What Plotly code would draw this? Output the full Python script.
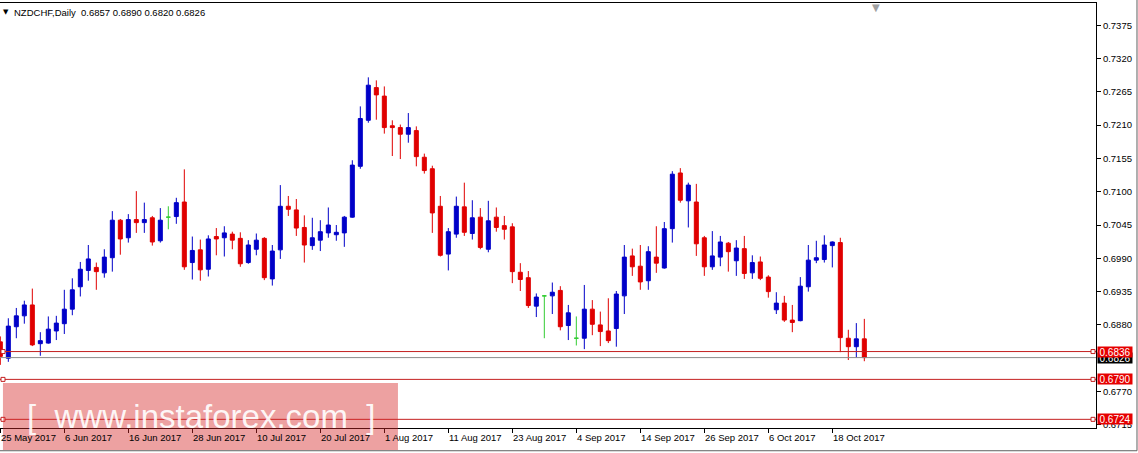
import pandas as pd
import plotly.graph_objects as go

# ---------------- data ----------------
symbol_title = "NZDCHF,Daily"

dates = pd.bdate_range("2017-05-25", "2017-10-24")
date_labels = [f"{d.day} {d:%b %Y}" for d in dates]

tick_labels = ["25 May 2017", "6 Jun 2017", "16 Jun 2017", "28 Jun 2017",
               "10 Jul 2017", "20 Jul 2017", "1 Aug 2017", "11 Aug 2017",
               "23 Aug 2017", "4 Sep 2017", "14 Sep 2017", "26 Sep 2017",
               "6 Oct 2017", "18 Oct 2017"]

price_ticks = [0.7375, 0.7320, 0.7265, 0.7210, 0.7155, 0.7100, 0.7045,
               0.6990, 0.6935, 0.6880, 0.6770, 0.6715]

opens = [0.6852, 0.6825, 0.6877, 0.6895, 0.6913, 0.6849, 0.6850, 0.6870, 0.6882, 0.6906,
         0.6943, 0.6970, 0.6975, 0.6966, 0.6991, 0.7053, 0.7024, 0.7054, 0.7049, 0.7057,
         0.7019, 0.7058, 0.7059, 0.7083, 0.6983, 0.7004, 0.6972, 0.7026, 0.7024, 0.7030,
         0.7023, 0.6983, 0.7005, 0.7023, 0.6956, 0.7004, 0.7076, 0.7070, 0.7041, 0.7011,
         0.7020, 0.7032, 0.7029, 0.7032, 0.7058, 0.7142, 0.7218, 0.7272, 0.7258, 0.7209,
         0.7206, 0.7195, 0.7201, 0.7157, 0.7138, 0.7076, 0.6997, 0.7030, 0.7075, 0.7031,
         0.7058, 0.7005, 0.7058, 0.7044, 0.7042, 0.6967, 0.6958, 0.6911, 0.6928, 0.6928,
         0.6937, 0.6879, 0.6858, 0.6858, 0.6906, 0.6880, 0.6870, 0.6874, 0.6928, 0.6994,
         0.6977, 0.6953, 0.6992, 0.6974, 0.7039, 0.7131, 0.7085, 0.7083, 0.7024, 0.6976,
         0.6992, 0.7015, 0.6986, 0.7006, 0.6966, 0.6984, 0.6959, 0.6905, 0.6916, 0.6888,
         0.6887, 0.6943, 0.6987, 0.6988, 0.7011, 0.7016, 0.6858, 0.6844, 0.6857]

highs = [0.6861, 0.6891, 0.6908, 0.6920, 0.6940, 0.6868, 0.6894, 0.6895, 0.6938, 0.6957,
         0.6984, 0.7012, 0.6983, 0.7005, 0.7068, 0.7055, 0.7063, 0.7101, 0.7082, 0.7060,
         0.7073, 0.7076, 0.7090, 0.7137, 0.7026, 0.7021, 0.7028, 0.7040, 0.7043, 0.7034,
         0.7033, 0.7020, 0.7031, 0.7025, 0.7012, 0.7111, 0.7093, 0.7088, 0.7061, 0.7057,
         0.7053, 0.7074, 0.7045, 0.7060, 0.7152, 0.7241, 0.7289, 0.7284, 0.7274, 0.7218,
         0.7211, 0.7230, 0.7208, 0.7163, 0.7143, 0.7093, 0.7040, 0.7092, 0.7115, 0.7086,
         0.7073, 0.7085, 0.7074, 0.7060, 0.7048, 0.6982, 0.6969, 0.6932, 0.6929, 0.6950,
         0.6944, 0.6913, 0.6894, 0.6946, 0.6921, 0.6902, 0.6924, 0.6936, 0.7012, 0.7006,
         0.7012, 0.7010, 0.7043, 0.7050, 0.7134, 0.7139, 0.7115, 0.7113, 0.7027, 0.7035,
         0.7027, 0.7017, 0.7020, 0.7027, 0.6995, 0.6993, 0.6962, 0.6934, 0.6928, 0.6913,
         0.6959, 0.7012, 0.7019, 0.7028, 0.7018, 0.7024, 0.6872, 0.6883, 0.6890]

lows = [0.6814, 0.6819, 0.6858, 0.6882, 0.6845, 0.6829, 0.6849, 0.6855, 0.6865, 0.6896,
        0.6927, 0.6953, 0.6938, 0.6958, 0.6968, 0.6996, 0.7016, 0.7032, 0.7032, 0.7011,
        0.7016, 0.7038, 0.7047, 0.6971, 0.6955, 0.6953, 0.6960, 0.6995, 0.6993, 0.7005,
        0.6976, 0.6981, 0.6995, 0.6954, 0.6945, 0.6989, 0.7060, 0.7027, 0.6983, 0.7004,
        0.7002, 0.7024, 0.7019, 0.7009, 0.7057, 0.7138, 0.7214, 0.7219, 0.7196, 0.7159,
        0.7154, 0.7181, 0.7142, 0.7130, 0.7032, 0.6993, 0.6970, 0.7024, 0.7027, 0.7021,
        0.7005, 0.7000, 0.7034, 0.7021, 0.6949, 0.6936, 0.6908, 0.6893, 0.6858, 0.6898,
        0.6871, 0.6855, 0.6846, 0.6840, 0.6863, 0.6845, 0.6850, 0.6844, 0.6898, 0.6961,
        0.6938, 0.6938, 0.6966, 0.6973, 0.7016, 0.7082, 0.7041, 0.6994, 0.6961, 0.6971,
        0.6977, 0.6968, 0.6961, 0.6956, 0.6956, 0.6954, 0.6925, 0.6898, 0.6885, 0.6868,
        0.6886, 0.6935, 0.6982, 0.6983, 0.6975, 0.6835, 0.6822, 0.6826, 0.6820]

closes = [0.6828, 0.6878, 0.6895, 0.6913, 0.6847, 0.6854, 0.6873, 0.6883, 0.6906, 0.6938,
          0.6972, 0.6989, 0.6968, 0.6992, 0.7053, 0.7022, 0.7054, 0.7049, 0.7054, 0.7017,
          0.7053, 0.7058, 0.7082, 0.6976, 0.7003, 0.6971, 0.7022, 0.7022, 0.7032, 0.7020,
          0.6981, 0.7012, 0.7020, 0.6958, 0.7002, 0.7076, 0.7071, 0.7040, 0.7012, 0.7024,
          0.7034, 0.7045, 0.7033, 0.7058, 0.7144, 0.7221, 0.7276, 0.7260, 0.7206, 0.7206,
          0.7195, 0.7206, 0.7158, 0.7135, 0.7065, 0.6995, 0.7034, 0.7076, 0.7033, 0.7057,
          0.7008, 0.7052, 0.7041, 0.7038, 0.6968, 0.6955, 0.6912, 0.6926, 0.6928, 0.6934,
          0.6877, 0.6900, 0.6858, 0.6906, 0.6881, 0.6869, 0.6854, 0.6931, 0.6992, 0.6976,
          0.6951, 0.7001, 0.6982, 0.7039, 0.7129, 0.7086, 0.7111, 0.7014, 0.6976, 0.6994,
          0.7017, 0.7001, 0.7007, 0.6965, 0.6983, 0.6957, 0.6935, 0.6916, 0.6888, 0.6884,
          0.6944, 0.6987, 0.6991, 0.7012, 0.7017, 0.6859, 0.6844, 0.6857, 0.6826]

level_lines = [0.6836, 0.6790, 0.6724]

# ---------------- styles ----------------
BULL = "#0000c8"
BEAR = "#e00000"
DOJI = "#33cc33"
LEVEL = "#c42020"
FONT = "Liberation Sans"

n = len(opens)
idx = list(range(n))
doji = [i for i in idx if opens[i] == closes[i]]
normal = [i for i in idx if opens[i] != closes[i]]

fig = go.Figure()
fig.add_trace(go.Candlestick(
    x=normal,
    open=[opens[i] for i in normal], high=[highs[i] for i in normal],
    low=[lows[i] for i in normal], close=[closes[i] for i in normal],
    increasing=dict(line=dict(color=BULL, width=1), fillcolor=BULL),
    decreasing=dict(line=dict(color=BEAR, width=1), fillcolor=BEAR),
    whiskerwidth=0, hoverinfo="skip", showlegend=False))
fig.add_trace(go.Candlestick(
    x=doji,
    open=[opens[i] for i in doji], high=[highs[i] for i in doji],
    low=[lows[i] for i in doji], close=[closes[i] for i in doji],
    increasing=dict(line=dict(color=DOJI, width=1), fillcolor=DOJI),
    decreasing=dict(line=dict(color=DOJI, width=1), fillcolor=DOJI),
    whiskerwidth=0, hoverinfo="skip", showlegend=False))

tick_idx = [date_labels.index(t) for t in tick_labels]

shapes = []
annotations = []

# current price (grey) line
last_close = closes[-1]
shapes.append(dict(type="line", xref="paper", x0=0, x1=1, yref="y",
                   y0=last_close, y1=last_close, line=dict(color="#8c8c8c", width=1)))
# horizontal level lines with small square handles
for lv in level_lines:
    shapes.append(dict(type="line", xref="paper", x0=0, x1=1, yref="y",
                       y0=lv, y1=lv, line=dict(color=LEVEL, width=1)))
    for anchor, a0, a1 in ((0, 1, 5), (1, -5, -1)):
        shapes.append(dict(type="rect", xref="paper", xsizemode="pixel", xanchor=anchor,
                           x0=a0, x1=a1, yref="y", ysizemode="pixel", yanchor=lv,
                           y0=-2, y1=2, fillcolor="white",
                           line=dict(color=LEVEL, width=1)))

# watermark box
shapes.append(dict(type="rect", xref="paper", yref="paper", x0=0.0027, x1=0.3631,
                   y0=-0.0518, y1=0.1059, fillcolor="rgba(215,40,40,0.44)",
                   line=dict(width=0), layer="above"))
# outer frame
shapes.append(dict(type="line", xref="paper", yref="paper", x0=0, x1=1.0374,
                   y0=-0.0535, y1=-0.0535, line=dict(color="#606060", width=1)))
shapes.append(dict(type="line", xref="paper", yref="paper", x0=1.0374, x1=1.0374,
                   y0=-0.0535, y1=1.01, line=dict(color="#606060", width=1)))

# x tick labels (left aligned at the bar, MT4 style)
for ti, tl in zip(tick_idx, tick_labels):
    annotations.append(dict(x=ti, xref="x", y=0, yref="paper", text=tl,
                            xanchor="left", yanchor="top", yshift=-2, xshift=-1,
                            showarrow=False, font=dict(family=FONT, size=9.5, color="black")))

# price boxes on the right
annotations.append(dict(x=1, xref="paper", y=last_close, yref="y", text=f"{last_close:.4f}",
                        xanchor="left", yanchor="middle", xshift=1, showarrow=False,
                        bgcolor="black", width=34, height=10, borderpad=0,
                        font=dict(family=FONT, size=10, color="white")))
for lv in level_lines:
    annotations.append(dict(x=1, xref="paper", y=lv, yref="y", text=f"{lv:.4f}",
                            xanchor="left", yanchor="middle", xshift=1, showarrow=False,
                            bgcolor="#e60000", width=34, height=10, borderpad=0,
                            font=dict(family=FONT, size=10, color="white")))

# title
annotations.append(dict(x=0, xref="paper", y=1, yref="paper", text="\u25bc",
                        xanchor="left", yanchor="top", xshift=1, yshift=-3, showarrow=False,
                        font=dict(family="DejaVu Sans", size=7, color="black")))
title_txt = (f"{symbol_title}\u00a0\u00a0{opens[-1]:.4f} {highs[-1]:.4f} "
             f"{lows[-1]:.4f} {closes[-1]:.4f}")
annotations.append(dict(x=0, xref="paper", y=1, yref="paper", text=title_txt,
                        xanchor="left", yanchor="top", xshift=12, yshift=-2, showarrow=False,
                        font=dict(family=FONT, size=9.5, color="black")))
# chart shift marker
annotations.append(dict(x=0.7993, xref="paper", y=1, yref="paper", text="\u25bc",
                        xanchor="center", yanchor="top", yshift=3, showarrow=False,
                        font=dict(family="DejaVu Sans", size=10, color="#a0a0a0")))
# watermark text
annotations.append(dict(x=0.0228, xref="paper", y=0.027, yref="paper",
                        text="[\u00a0\u00a0www.instaforex.com\u00a0\u00a0]",
                        xanchor="left", yanchor="middle", showarrow=False,
                        font=dict(family=FONT, size=33, color="rgba(255,255,255,0.92)")))

fig.update_layout(
    width=1138, height=453,
    margin=dict(l=0, r=42, t=3, b=25),
    paper_bgcolor="white", plot_bgcolor="white",
    showlegend=False, boxgap=0.5, boxgroupgap=0,
    shapes=shapes, annotations=annotations,
    xaxis=dict(range=[-0.04, 136.96], tickvals=tick_idx, showticklabels=False,
               ticks="outside", ticklen=4, tickcolor="black",
               showgrid=False, zeroline=False, showline=True, linecolor="black",
               linewidth=1, mirror=True, rangeslider=dict(visible=False), fixedrange=True),
    yaxis=dict(side="right", range=[0.67097, 0.74118], tickvals=price_ticks,
               tickformat=".4f", ticks="outside", ticklen=4, tickcolor="black",
               tickfont=dict(family=FONT, size=9.5, color="black"),
               showgrid=False, zeroline=False, showline=True, linecolor="black",
               linewidth=1, mirror=True, fixedrange=True),
)

fig.write_html("out.html", config={"displayModeBar": False},
               post_script="document.body.style.margin='0';document.body.style.overflow='hidden';")
